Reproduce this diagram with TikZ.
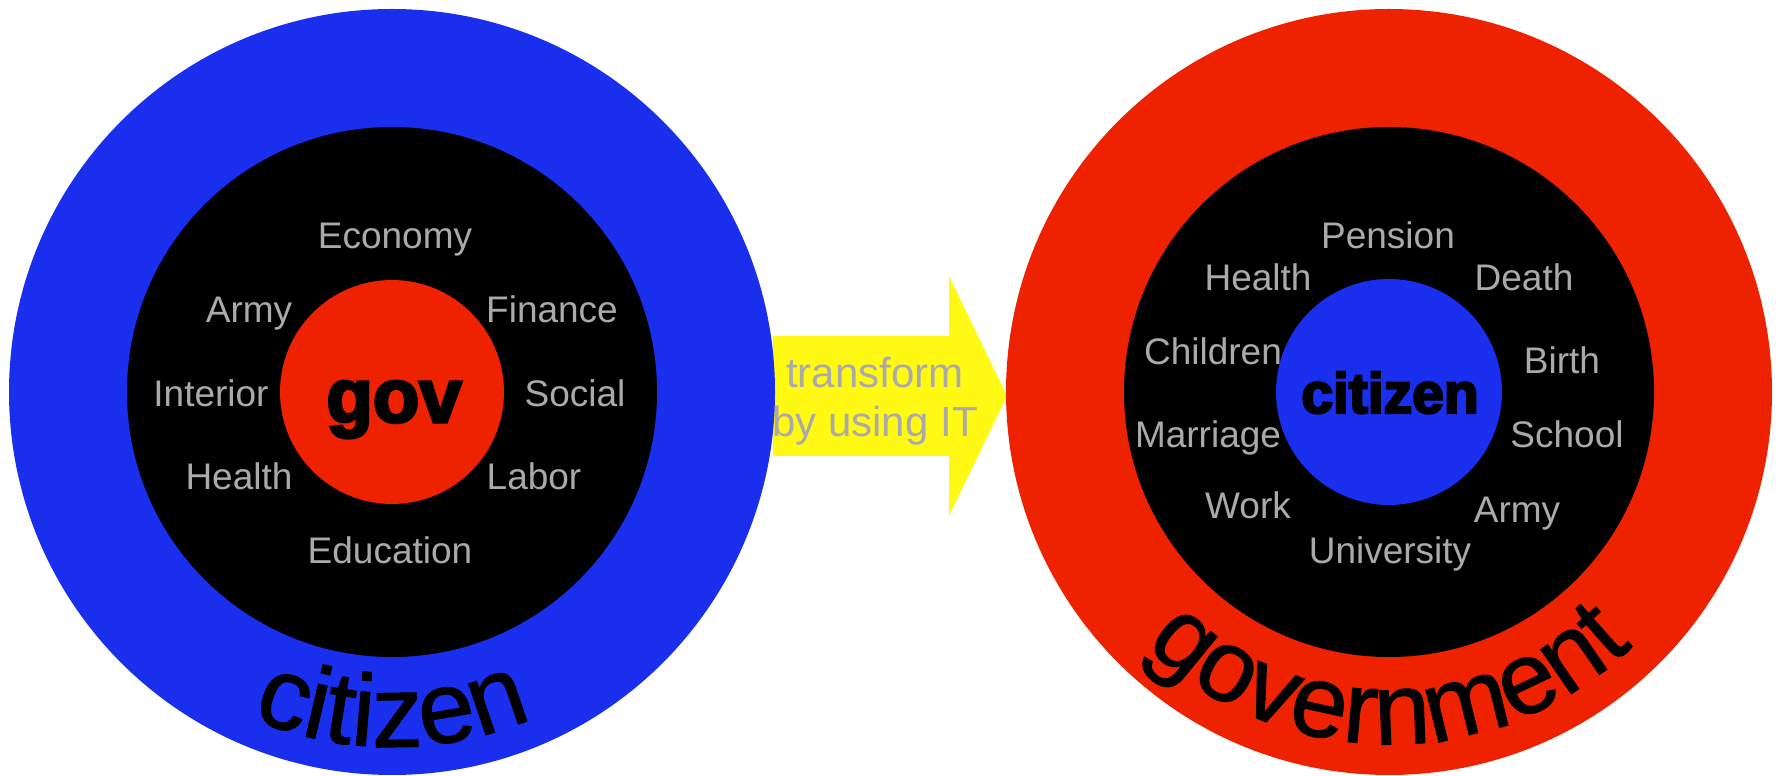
\documentclass[tikz,border=0pt]{standalone}
\usepackage{fontspec}
\setmainfont{Liberation Sans}
\newfontfamily\heavyfont[FakeBold=4]{Liberation Sans Bold}
\newfontfamily\arcfamily[FakeBold=1]{Liberation Sans}
\usetikzlibrary{decorations.text}
\definecolor{ringblue}{RGB}{26,46,237}
\definecolor{ringred}{RGB}{238,34,0}
\definecolor{arrowyellow}{RGB}{255,249,20}
\definecolor{topicgray}{RGB}{170,170,172}
\newcommand\arcfont{\arcfamily\fontsize{102}{110}\selectfont}

\begin{document}
\begin{tikzpicture}[x=1pt, y=1pt,
	topic/.style={text=topicgray, font=\fontsize{37}{44}\selectfont, anchor=base, inner sep=0},
	hub/.style={anchor=base, inner sep=0}]
	\useasboundingbox (0,0) rectangle (1781,776);
	\coordinate (lc) at (392,384);
	\coordinate (rc) at (1389,384);
	\fill[arrowyellow] (773,320) -- (949,320) -- (949,260) -- (1007,380) -- (949,500) -- (949,440) -- (773,440) -- cycle;
	\node[topic, font=\fontsize{42}{49}\selectfont] (trans) at (875,388) {transform};
	\node[topic, font=\fontsize{42}{49}\selectfont] (byit) at (875,339) {by using IT};
	\fill[ringblue] (lc) circle [radius=383];
	\fill[black] (lc) circle [radius=265];
	\fill[ringred] (lc) circle [radius=112];
	\node[hub, font=\heavyfont\fontsize{76}{80}\selectfont] (gov) at (394,354) {gov};
	\node[topic] (economy) at (395,527) {Economy};
	\node[topic] (armyl) at (249,453) {Army};
	\node[topic] (finance) at (552,453) {Finance};
	\node[topic] (interior) at (211,369) {Interior};
	\node[topic] (social) at (575,369) {Social};
	\node[topic] (healthl) at (239,286) {Health};
	\node[topic] (labor) at (534,286) {Labor};
	\node[topic] (education) at (390,212) {Education};
	\path[decorate, decoration={text along path, text={|\arcfont|citizen}, text align=center}]
		([shift={(230:355)}]lc) arc [start angle=230, end angle=310, radius=355];
	\fill[ringred] (rc) circle [radius=383];
	\fill[black] (rc) circle [radius=265];
	\fill[ringblue] (rc) circle [radius=113];
	\node[hub, font=\heavyfont\fontsize{57}{60}\selectfont] (cit) at (1390,363) {citizen};
	\node[topic] (pension) at (1388,527) {Pension};
	\node[topic] (healthr) at (1258,485) {Health};
	\node[topic] (death) at (1524,485) {Death};
	\node[topic] (children) at (1213,411) {Children};
	\node[topic] (birth) at (1562,402) {Birth};
	\node[topic] (marriage) at (1208,328) {Marriage};
	\node[topic] (school) at (1567,328) {School};
	\node[topic] (work) at (1248,257) {Work};
	\node[topic] (armyr) at (1517,253) {Army};
	\node[topic] (university) at (1390,212) {University};
	\path[decorate, decoration={text along path, text={|\arcfont|government}, text align=center}]
		([shift={(210:352)}]rc) arc [start angle=210, end angle=330, radius=352];
\end{tikzpicture}
\end{document}
